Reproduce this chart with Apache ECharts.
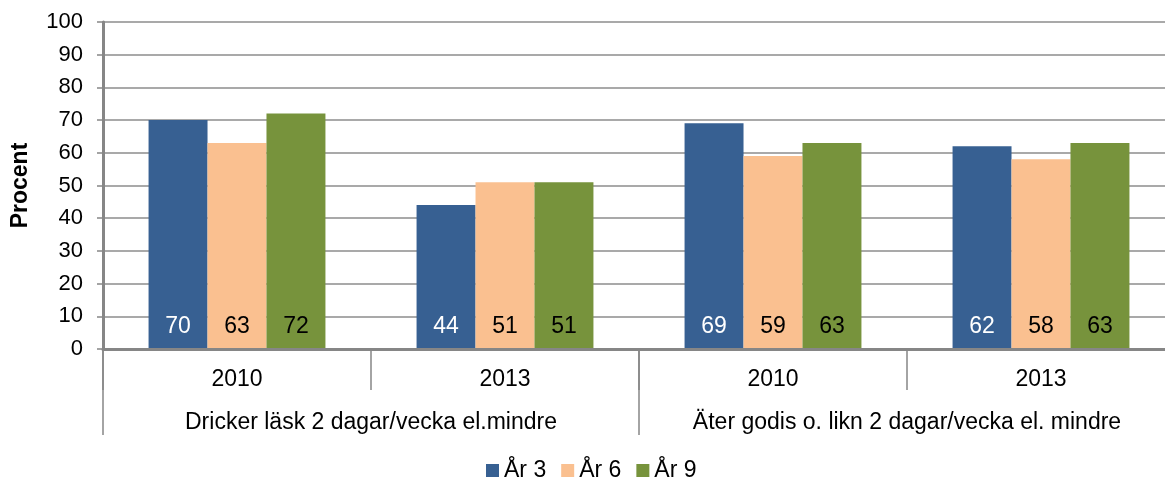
<!DOCTYPE html>
<html>
<head>
<meta charset="utf-8">
<script src="https://cdn.jsdelivr.net/npm/echarts@6/dist/echarts.min.js"></script>
<style>html,body{margin:0;padding:0;background:#fff}#c{width:1165px;height:482px}</style>
</head>
<body>
<div id="c"></div>
<script>
var years = ['2010', '2013', '2010', '2013'];
var groups = ['Dricker läsk 2 dagar/vecka el.mindre', 'Äter godis o. likn 2 dagar/vecka el. mindre'];
var seriesNames = ['År 3', 'År 6', 'År 9'];
var ar3 = [70, 44, 69, 62];
var ar6 = [63, 51, 59, 58];
var ar9 = [72, 51, 63, 63];
var yTicks = { min: 0, max: 100, interval: 10 };

var colors = ['#376092', '#FAC090', '#77933C'];
var labelColors = ['#ffffff', '#000000', '#000000'];
var font = '"Liberation Sans", Arial, sans-serif';
var data = [ar3, ar6, ar9];

var chart = echarts.init(document.getElementById('c'), null, { renderer: 'canvas' });
chart.setOption({
  animation: false,
  textStyle: { fontFamily: font },
  grid: { left: 103, right: -10, top: 22, bottom: 133, containLabel: false, outerBoundsMode: 'none' },
  legend: {
    top: 454,
    left: 481,
    itemWidth: 13, itemHeight: 13, itemGap: 15,
    icon: 'rect',
    textStyle: { fontSize: 23, color: '#000', fontFamily: font },
    data: seriesNames
  },
  xAxis: [
    {
      type: 'category', data: years, position: 'bottom',
      axisLine: { show: true, lineStyle: { color: '#868686', width: 3 } },
      axisTick: { show: true, length: 41, lineStyle: { color: '#868686', width: 1.5 } },
      axisLabel: { fontSize: 23, color: '#000', margin: 19, fontFamily: font, interval: 0 },
      z: 3
    },
    {
      type: 'category', data: groups, position: 'bottom',
      axisLine: { show: false },
      axisTick: { show: true, length: 86, lineStyle: { color: '#868686', width: 1.5 } },
      axisLabel: { fontSize: 23, color: '#000', margin: 62, fontFamily: font, interval: 0 }
    }
  ],
  yAxis: {
    type: 'value', min: yTicks.min, max: yTicks.max, interval: yTicks.interval,
    name: 'Procent', nameLocation: 'middle', nameGap: 71, nameRotate: 90,
    nameTextStyle: { fontSize: 23, fontWeight: 'bold', color: '#000', fontFamily: font },
    axisLine: { show: true, lineStyle: { color: '#868686', width: 3 } },
    axisTick: { show: true, length: 6, inside: false, lineStyle: { color: '#868686', width: 1.5 } },
    axisLabel: { fontSize: 22, color: '#000', margin: 20, fontFamily: font },
    splitLine: { show: true, lineStyle: { color: '#8c8c8c', width: 1.5 } }
  },
  series: seriesNames.map(function (n, i) {
    return {
      name: n, type: 'bar', xAxisIndex: 0, data: data[i],
      barGap: '0%', barCategoryGap: '34%',
      itemStyle: { color: colors[i] },
      label: { show: true, position: 'insideBottom', distance: 11, fontSize: 23, color: labelColors[i], fontFamily: font }
    };
  })
});
</script>
</body>
</html>
